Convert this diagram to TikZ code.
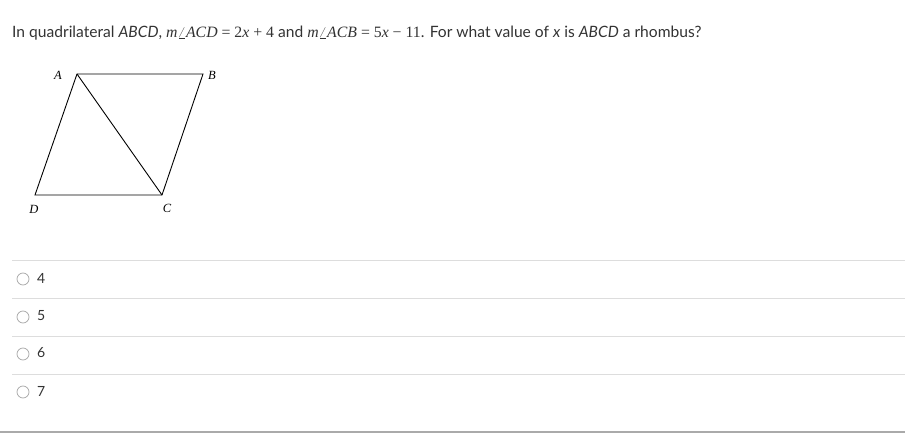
\documentclass[tikz,border=0pt]{standalone}
\usepackage{fontspec}
\setmainfont{Lato}
\newfontfamily\tms{Liberation Serif}
\definecolor{txt}{HTML}{333333}
\definecolor{sep}{HTML}{DDDDDD}
\definecolor{botline}{HTML}{AAAAAA}
\tikzset{
  fig/.style={line width=0.9pt, black},
  vlabel/.style={font=\tms\itshape\fontsize{12.5}{13}\selectfont, inner sep=0pt},
  sepline/.style={sep, line width=1pt},
  radio/.style={circle, draw=gray!70, line width=0.7pt, minimum size=12pt, inner sep=0pt},
  choice/.style={font=\fontsize{14}{16}\selectfont, text=txt, anchor=west, inner sep=0pt}
}
\newcommand{\mth}[1]{{\tms\fontsize{15.8}{16}\selectfont #1}}
\begin{document}
\begin{tikzpicture}[x=1pt,y=-1pt]
\useasboundingbox (0,0) rectangle (905,433);
\fill[white] (0,0) rectangle (905,433);
\node[anchor=base west, inner sep=0pt, text=txt, font=\fontsize{15.6}{18}\selectfont] (q) at (12,38)
 {In quadrilateral \textit{ABCD}, \mth{\textit{m}$\angle$\textit{ACD} = 2\textit{x} + 4} and \mth{\textit{m}$\angle$\textit{ACB} = 5\textit{x} − 11}. For what value of \textit{x} is \textit{ABCD} a rhombus?};
% figure
\coordinate (A) at (77,74);
\coordinate (B) at (203,74);
\coordinate (C) at (162,195);
\coordinate (D) at (35,195);
\draw[fig] (A) -- (B) -- (C) -- (D) -- cycle;
\draw[fig] (A) -- (C);
\node[vlabel] (lA) at (58,75) {A};
\node[vlabel] (lB) at (212,75) {B};
\node[vlabel] (lC) at (167,208) {C};
\node[vlabel] (lD) at (34,209) {D};
% separators
\draw[sepline] (12,260.5) -- (905,260.5);
\draw[sepline] (12,298.5) -- (905,298.5);
\draw[sepline] (12,336.5) -- (905,336.5);
\draw[sepline] (12,374.5) -- (905,374.5);
\draw[botline, line width=1.3pt] (0,432) -- (905,432);
% choices
\node[radio] (r1) at (23,279) {};
\node[radio] (r2) at (23,317) {};
\node[radio] (r3) at (23,354) {};
\node[radio] (r4) at (23,392) {};
\node[choice] (c1) at (37,278) {4};
\node[choice] (c2) at (37,316) {5};
\node[choice] (c3) at (37,353) {6};
\node[choice] (c4) at (37,391) {7};
\end{tikzpicture}
\end{document}
